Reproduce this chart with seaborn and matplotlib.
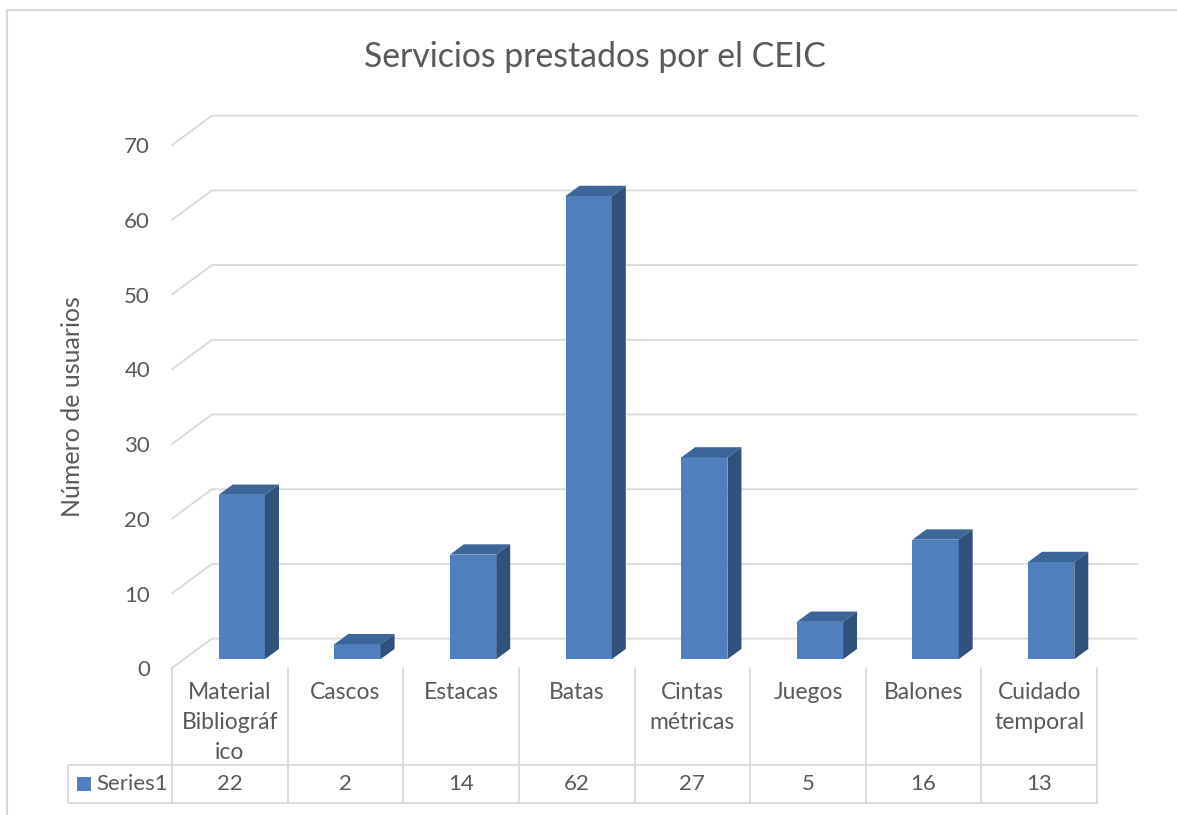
import matplotlib
matplotlib.use("Agg")
import matplotlib.pyplot as plt
import seaborn as sns
from matplotlib.patches import Polygon, Rectangle
from matplotlib.lines import Line2D

categories = ["Material Bibliográfico", "Cascos", "Estacas", "Batas",
              "Cintas métricas", "Juegos", "Balones", "Cuidado temporal"]
wrapped = ["Material\nBibliográf\nico", "Cascos", "Estacas", "Batas",
           "Cintas\nmétricas", "Juegos", "Balones", "Cuidado\ntemporal"]
values = [22, 2, 14, 62, 27, 5, 16, 13]
yticks = [0, 10, 20, 30, 40, 50, 60, 70]
series_name = "Series1"

FRONT = "#4f7fbd"
TOP = "#3c6699"
SIDE = "#31517d"
GRID = "#d9d9d9"
TXT = "#595959"

sns.set_style("white")
plt.rcParams["font.family"] = ["Lato", "DejaVu Sans"]

W, H = 1177, 815
fig = plt.figure(figsize=(W / 100, H / 100), dpi=100)
# axes = back wall of the 3D box
ax = fig.add_axes([212 / W, (H - 638.6) / H, 925 / W, 522.9 / H])

sns.barplot(x=categories, y=values, color=FRONT, saturation=1, width=0.4,
            ax=ax, linewidth=0, zorder=3)
ax.set_xlim(-0.5, 7.5)
ax.set_ylim(0, 70)
ax.axis("off")

# depth offset front -> back, in data units
DX = 40 / (925 / 8)
DY = 29.4 / (522.9 / 70)
f0, f1 = 0.3, 0.65  # bar front / back depth

# gridlines: diagonal on the side wall + horizontal on back wall
for v in yticks:
    ax.add_line(Line2D([-0.5 - DX, -0.5, 7.5], [v - DY, v, v], color=GRID,
                       lw=1.3, zorder=0.5, clip_on=False))
    ax.text(-0.5 - DX - 0.19, v - DY - 0.3, str(v), ha="right", va="center",
            fontsize=16, color=TXT)

for p in ax.patches:
    x0 = p.get_x() - (1 - f0) * DX
    y0 = -(1 - f0) * DY
    h = p.get_height()
    w = p.get_width()
    p.set_x(x0)
    p.set_y(y0)
    p.set_clip_on(False)
    x1, y1 = x0 + w, y0 + h
    sx, sy = (f1 - f0) * DX, (f1 - f0) * DY
    ax.add_patch(Polygon([(x0, y1), (x1, y1), (x1 + sx, y1 + sy), (x0 + sx, y1 + sy)],
                         closed=True, fc=TOP, ec="none", zorder=3, clip_on=False))
    ax.add_patch(Polygon([(x1, y0), (x1, y1), (x1 + sx, y1 + sy), (x1 + sx, y0 + sy)],
                         closed=True, fc=SIDE, ec="none", zorder=3, clip_on=False))

# data table below the floor
px = 925 / 8
py = 522.9 / 70
top_y = -DY
mid_y = -(765 - 638.6) / py
bot_y = -(803 - 638.6) / py
left_leg = (68 - 212) / px - 0.5
for i in range(len(values) + 1):
    xb = i - 0.5 - DX
    ax.add_line(Line2D([xb, xb], [top_y, bot_y], color=GRID, lw=1.3, clip_on=False))
ax.add_line(Line2D([left_leg, left_leg], [mid_y, bot_y], color=GRID, lw=1.3, clip_on=False))
for yy in (mid_y, bot_y):
    ax.add_line(Line2D([left_leg, 7.5 - DX], [yy, yy], color=GRID, lw=1.3, clip_on=False))

for i, (lab, v) in enumerate(zip(wrapped, values)):
    xc = i - DX
    ax.text(xc, top_y - (682 - 668) / py, lab, ha="center", va="top",
            fontsize=16.5, color=TXT, linespacing=1.52)
    ax.text(xc, (mid_y + bot_y) / 2, str(v), ha="center", va="center",
            fontsize=16, color=TXT)

# legend key in the table
ax.add_patch(Rectangle((left_leg + 9 / px, (mid_y + bot_y) / 2 - 7 / py), 14 / px, 14 / py,
                       fc=FRONT, ec="none", clip_on=False))
ax.text(left_leg + 28 / px, (mid_y + bot_y) / 2, series_name, ha="left", va="center",
        fontsize=16, color=TXT)

fig.text(595 / W, 1 - 57 / H, "Servicios prestados por el CEIC", ha="center",
         va="center", fontsize=24.3, color=TXT)
fig.text(72 / W, 1 - 407 / H, "Número de usuarios", ha="center", va="center",
         rotation=90, fontsize=18, color=TXT)

# chart outer border
fig.add_artist(Line2D([7 / W, 7 / W, 1], [0, 1 - 10 / H, 1 - 10 / H], color=GRID,
                      lw=1.5, transform=fig.transFigure))

fig.savefig("out.png", dpi=100)
